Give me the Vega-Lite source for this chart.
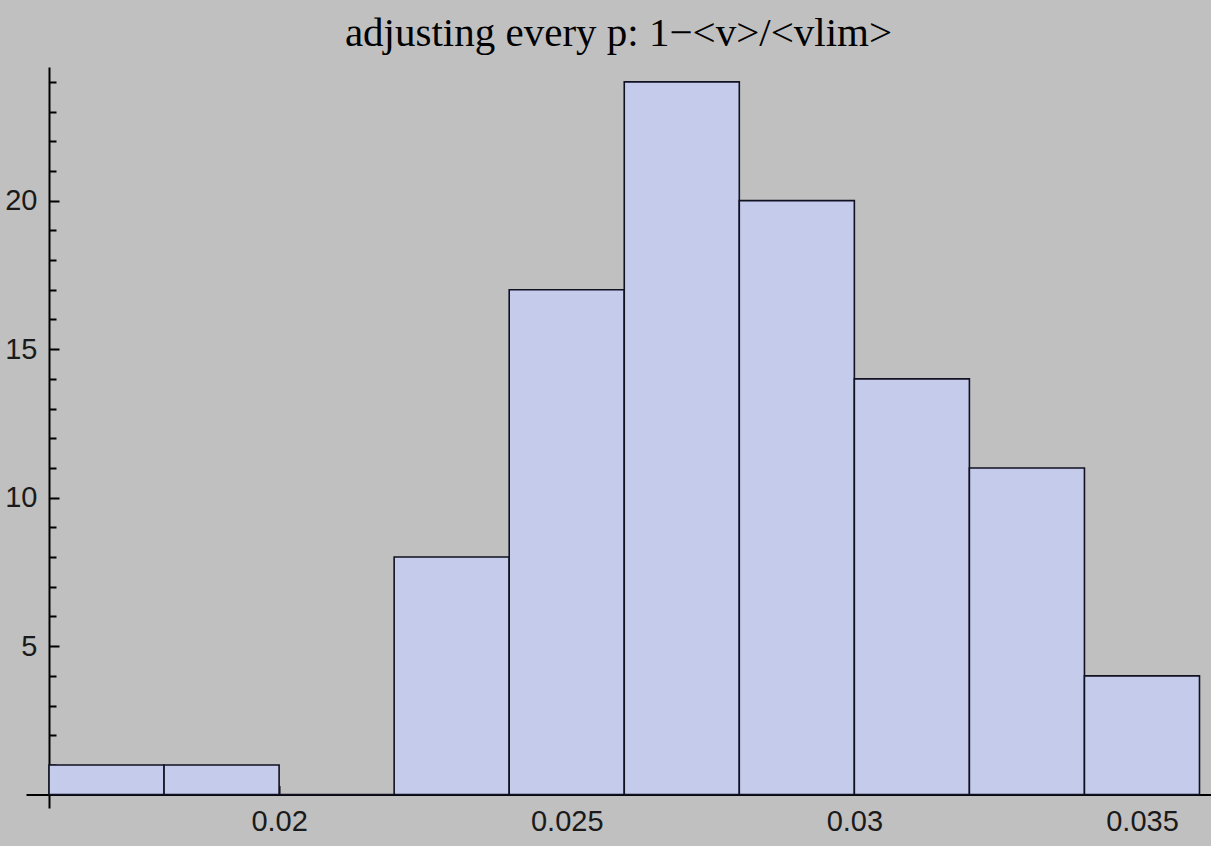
{
  "$schema": "https://vega.github.io/schema/vega-lite/v6.json",
  "autosize": "none",
  "width": 1185,
  "height": 741,
  "padding": {"left": 26, "top": 67, "right": 0, "bottom": 38},
  "background": "#c0c0c0",
  "title": {
    "text": "adjusting every p: 1\u2212<v>/<vlim>",
    "font": "Liberation Serif",
    "fontSize": 41,
    "fontWeight": "normal",
    "color": "#000000",
    "baseline": "alphabetic",
    "offset": 21,
    "dy": 41,
    "anchor": "middle"
  },
  "config": {
    "view": {"stroke": null, "fill": null},
    "axis": {
      "domainColor": "#000000",
      "domainWidth": 2,
      "tickColor": "#000000",
      "tickWidth": 2,
      "grid": false,
      "title": null,
      "labelFont": "Liberation Sans",
      "labelFontSize": 29,
      "labelColor": "#1a1a1a"
    }
  },
  "data": {
    "values": [
      {"bin_start": 0.016, "bin_end": 0.018, "count": 1},
      {"bin_start": 0.018, "bin_end": 0.020, "count": 1},
      {"bin_start": 0.020, "bin_end": 0.022, "count": 0},
      {"bin_start": 0.022, "bin_end": 0.024, "count": 8},
      {"bin_start": 0.024, "bin_end": 0.026, "count": 17},
      {"bin_start": 0.026, "bin_end": 0.028, "count": 24},
      {"bin_start": 0.028, "bin_end": 0.030, "count": 20},
      {"bin_start": 0.030, "bin_end": 0.032, "count": 14},
      {"bin_start": 0.032, "bin_end": 0.034, "count": 11},
      {"bin_start": 0.034, "bin_end": 0.036, "count": 4}
    ]
  },
  "mark": {"type": "rect", "fill": "#c5cbeb", "stroke": "#111122", "strokeWidth": 1.6},
  "encoding": {
    "x": {
      "field": "bin_start",
      "type": "quantitative",
      "scale": {"domain": [0.0156, 0.0362], "nice": false, "zero": false},
      "axis": {
        "orient": "bottom",
        "offset": -13.4,
        "values": [0.02, 0.025, 0.03, 0.035],
        "format": "~g",
        "tickSize": -9,
        "labelPadding": 22,
        "labelBaseline": "top",
        "labelFlush": false,
        "labelOverlap": false
      }
    },
    "x2": {"field": "bin_end"},
    "y": {
      "field": "count",
      "type": "quantitative",
      "scale": {"domain": [-0.45, 24.5], "nice": false, "zero": false},
      "axis": {
        "orient": "left",
        "offset": -23,
        "values": [1, 2, 3, 4, 5, 6, 7, 8, 9, 10, 11, 12, 13, 14, 15, 16, 17, 18, 19, 20, 21, 22, 23, 24],
        "labelExpr": "datum.value % 5 === 0 ? datum.label : ''",
        "tickSize": {"condition": {"test": "datum.value % 5 === 0", "value": -10}, "value": -7},
        "labelPadding": 22,
        "labelFlush": false,
        "labelOverlap": false
      }
    },
    "y2": {"datum": 0}
  }
}
